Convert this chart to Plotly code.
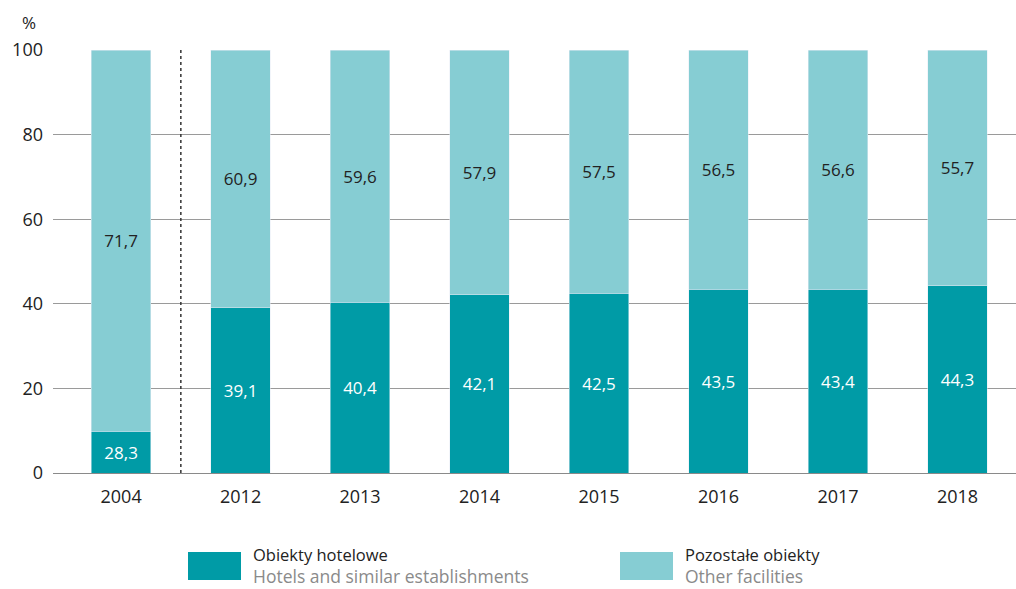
import plotly.graph_objects as go

years = ["2004", "2012", "2013", "2014", "2015", "2016", "2017", "2018"]
# bar heights as drawn in the reference
hotel_drawn = [9.9, 39.1, 40.4, 42.1, 42.5, 43.5, 43.4, 44.3]
# printed labels
hotel_labels = ["28,3", "39,1", "40,4", "42,1", "42,5", "43,5", "43,4", "44,3"]
other_labels = ["71,7", "60,9", "59,6", "57,9", "57,5", "56,5", "56,6", "55,7"]
other_drawn = [100 - h for h in hotel_drawn]
y_ticks = [0, 20, 40, 60, 80, 100]

DARK = "#009ba6"
LIGHT = "#86cdd3"
FONT = "Open Sans"

fig = go.Figure()
fig.add_trace(go.Bar(
    x=list(range(len(years))), y=hotel_drawn, marker_color=DARK, width=0.5,
    text=hotel_labels, textposition="inside", insidetextanchor="middle",
    textangle=0, textfont=dict(color="white", size=17, family=FONT),
    showlegend=False, hoverinfo="skip"))
fig.add_trace(go.Bar(
    x=list(range(len(years))), y=other_drawn, marker_color=LIGHT, width=0.5,
    text=other_labels, textposition="inside", insidetextanchor="middle",
    textangle=0, textfont=dict(color="#222222", size=17, family=FONT),
    showlegend=False, hoverinfo="skip"))

fig.update_layout(
    barmode="stack",
    width=1016, height=589,
    margin=dict(l=53, r=0, t=50, b=116),
    plot_bgcolor="white", paper_bgcolor="white",
    font=dict(family=FONT, size=17, color="#222222"),
    uniformtext=dict(minsize=17, mode="show"),
    xaxis=dict(range=[-0.57, 7.49], tickmode="array",
               tickvals=list(range(len(years))), ticktext=years,
               showgrid=False, ticks="", showline=False, zeroline=False,
               ticklabelstandoff=11,
               tickfont=dict(size=18, color="#222222")),
    yaxis=dict(range=[0, 100], tickvals=y_ticks, showgrid=True,
               gridcolor="#9a9a9a", gridwidth=1, zeroline=True,
               zerolinecolor="#8a8a8a", zerolinewidth=1, ticks="",
               ticklabelstandoff=9,
               tickfont=dict(size=18, color="#222222")),
)

# dotted separator between 2004 and 2012
fig.add_shape(type="line", xref="x", yref="y", x0=0.5, x1=0.5, y0=0, y1=100,
              line=dict(color="#333333", width=1.5, dash="dot"))

# unit label
fig.add_annotation(text="%", xref="paper", yref="paper", x=-0.025, y=1.065,
                   xanchor="center", yanchor="middle", showarrow=False,
                   font=dict(size=17, color="#222222"))

# manual legend
pl, pt, pw, ph = 53, 50, 1016 - 53, 589 - 50 - 116
def px(xp):
    return (xp - pl) / pw
def py(yp):
    return 1 - (yp - pt) / ph
legend_items = [
    (DARK, "Obiekty hotelowe", "Hotels and similar establishments", 188),
    (LIGHT, "Pozostałe obiekty", "Other facilities", 620),
]
for color, pl_txt, en_txt, x0 in legend_items:
    fig.add_shape(type="rect", xref="paper", yref="paper",
                  x0=px(x0), x1=px(x0 + 53), y0=py(580), y1=py(552),
                  fillcolor=color, line=dict(width=0))
    fig.add_annotation(text=pl_txt, xref="paper", yref="paper",
                       x=px(x0 + 63), y=py(554), xanchor="left", yanchor="middle",
                       showarrow=False, font=dict(size=16.5, color="#222222"))
    fig.add_annotation(text=en_txt, xref="paper", yref="paper",
                       x=px(x0 + 63), y=py(576), xanchor="left", yanchor="middle",
                       showarrow=False, font=dict(size=17.5, color="#8a8a8a"))

fig.write_html("out.html", config={"displayModeBar": False},
               post_script="document.body.style.margin='0';")
